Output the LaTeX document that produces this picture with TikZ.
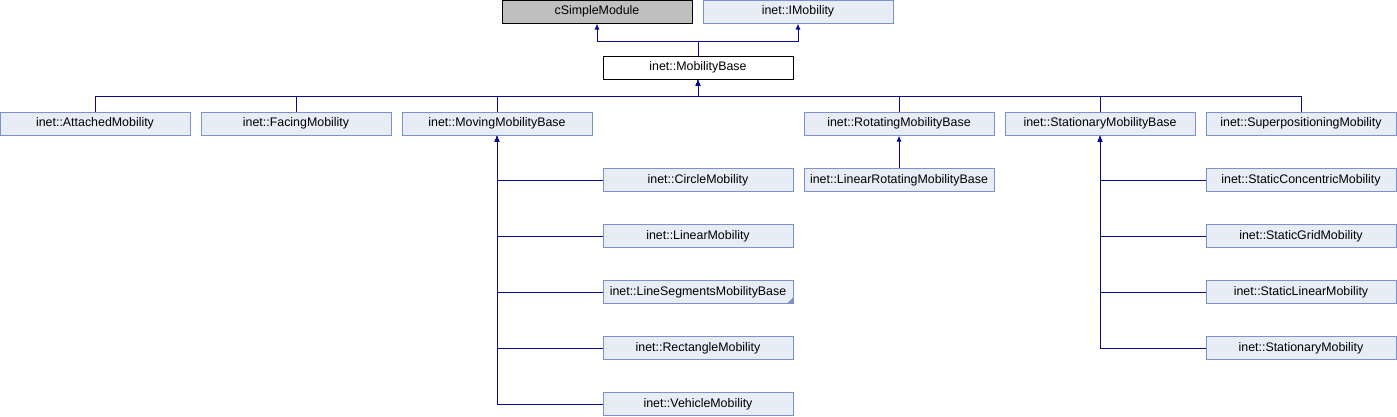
\documentclass[tikz,border=0pt]{standalone}
\usepackage{fontspec}
\setmainfont{Liberation Sans}
\usetikzlibrary{arrows.meta}
\definecolor{boxfill}{RGB}{232,236,245}
\definecolor{boxline}{RGB}{124,146,204}
\definecolor{edgecol}{RGB}{10,10,140}
\definecolor{greyfill}{RGB}{191,191,191}
\begin{document}
\begin{tikzpicture}[x=1pt,y=-1pt,
  cls/.style={draw=boxline,fill=boxfill,line width=1pt,minimum width=190pt,minimum height=23pt,inner sep=0pt,font=\fontsize{12.4}{14}\selectfont},
  extcls/.style={cls,draw=black,fill=greyfill},
  curcls/.style={cls,draw=black,fill=white},
  edge/.style={draw=edgecol,line width=1pt,-{Latex[length=6pt,width=5pt]}}
]
\useasboundingbox (0,0) rectangle (1397,416);
% top
\node[extcls] (csm) at (597,11.5) {cSimpleModule};
\node[cls] (imob) at (798,11.5) {inet::IMobility};
\node[curcls] (mb) at (698,67.5) {inet::MobilityBase};
% second row
\node[cls] (att) at (95,123.5) {inet::AttachedMobility};
\node[cls] (fac) at (296,123.5) {inet::FacingMobility};
\node[cls] (mov) at (497,123.5) {inet::MovingMobilityBase};
\node[cls] (rot) at (899,123.5) {inet::RotatingMobilityBase};
\node[cls] (sta) at (1100,123.5) {inet::StationaryMobilityBase};
\node[cls] (sup) at (1301,123.5) {inet::SuperpositioningMobility};
% rotating child
\node[cls] (lrot) at (899,180) {inet::LinearRotatingMobilityBase};
% moving children
\node[cls] (cir) at (698,180) {inet::CircleMobility};
\node[cls] (lin) at (698,236) {inet::LinearMobility};
\node[cls] (lseg) at (698,292) {inet::LineSegmentsMobilityBase};
\node[cls] (rect) at (698,348) {inet::RectangleMobility};
\node[cls] (veh) at (698,404) {inet::VehicleMobility};
% stationary children
\node[cls] (scon) at (1301,180) {inet::StaticConcentricMobility};
\node[cls] (sgrid) at (1301,236) {inet::StaticGridMobility};
\node[cls] (slin) at (1301,292) {inet::StaticLinearMobility};
\node[cls] (stat) at (1301,348) {inet::StationaryMobility};
% truncated marker
\fill[boxline] (lseg.south east) ++(-0.5,-0.5) -- ++(-6,0) -- ++(6,-6) -- cycle;
% coordinates for buses
\coordinate (b1) at (698,41);
\coordinate (b2) at (698,96);
% edges
\draw[edge] (mb.north) -- (b1) -| (csm.south);
\draw[edge] (mb.north) -- (b1) -| (imob.south);
\foreach \c in {att,fac,mov,rot,sta,sup}{
  \draw[edge] (\c.north) |- (b2) -- (mb.south);
}
\draw[edge] (lrot.north) -- (rot.south);
\foreach \c in {cir,lin,lseg,rect,veh}{
  \draw[edge] (\c.west) -| (mov.south);
}
\foreach \c in {scon,sgrid,slin,stat}{
  \draw[edge] (\c.west) -| (sta.south);
}
\end{tikzpicture}
\end{document}
